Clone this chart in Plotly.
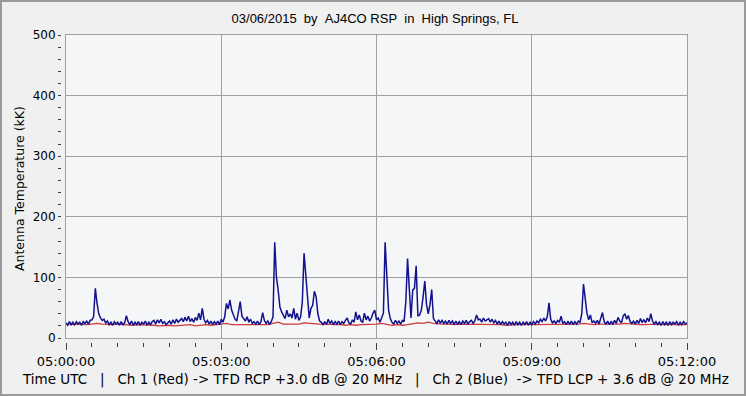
import pandas as pd
import plotly.graph_objects as go

# ---- data (antenna temperature, kK) ----
# Ch 2 (Blue): 2-second samples, one row per minute, 05:00:00 .. 05:12:00
blue_m0 = [25,21,27,22,26,21,27,23,26,21, 27,24,28,23,29,30,35,82,57,40, 33,29,31,25,28,22,26,21,27,23]
blue_m1 = [26,21,27,22,25,37,27,22,28,21, 26,22,27,21,26,23,28,21,26,22, 27,29,23,30,25,31,24,27,22,26]
blue_m2 = [28,23,30,24,31,26,29,32,27,34, 28,36,27,32,26,34,29,41,30,49, 31,25,29,23,28,22,27,23,28,22]
blue_m3 = [31,26,35,57,48,63,46,38,31,28, 42,60,36,31,28,35,26,31,24,27, 23,28,22,27,42,29,24,28,22,27]
blue_m4 = [35,158,100,79,51,43,38,32,46,35, 40,33,49,31,41,29,35,60,140,107, 60,33,49,54,77,68,40,28,26,22]
blue_m5 = [27,22,31,24,28,22,27,23,28,22, 27,24,29,33,25,23,30,26,43,30, 38,28,26,41,30,36,28,33,41,46]
blue_m6 = [30,33,26,33,41,158,107,46,32,26, 23,29,24,28,23,29,27,60,131,90, 33,79,82,119,36,38,46,68,94,55]
blue_m7 = [40,55,80,32,27,24,30,25,29,24, 28,23,29,24,28,22,28,23,27,22, 28,24,29,23,27,29,24,28,38,30]
blue_m8 = [31,26,33,28,30,32,26,31,25,29, 23,28,22,27,23,26,21,27,22,26, 21,27,22,26,21,26,22,27,21,26]
blue_m9 = [22,27,23,28,25,31,27,33,28,35, 58,31,25,28,24,29,26,36,24,27, 22,27,23,28,22,27,23,28,26,40]
blue_m10 = [89,68,41,30,38,25,28,24,29,23, 32,42,27,23,28,22,27,23,29,24, 34,28,25,36,40,31,37,27,24,28]
blue_m11 = [23,29,24,32,26,30,25,33,27,40, 28,23,27,22,26,21,27,22,26,21, 27,22,26,23,27,21,26,22,27,23]
blue_end = [25]

# Ch 1 (Red): 6-second samples, one row per minute
red_m0 = [23,22,23,22,22,23,24,23,22,22]
red_m1 = [23,22,22,21,22,22,21,21,20,21]
red_m2 = [21,20,21,21,22,20,21,22,21,22]
red_m3 = [23,24,22,22,23,22,22,23,22,22]
red_m4 = [24,26,23,23,24,23,25,24,23,23]
red_m5 = [23,22,22,22,21,22,21,22,22,22]
red_m6 = [23,24,22,21,22,21,22,24,25,24]
red_m7 = [26,24,23,23,23,22,23,23,22,22]
red_m8 = [22,22,22,23,22,21,22,22,22,23]
red_m9 = [22,22,23,22,22,23,22,22,22,23]
red_m10 = [24,23,22,23,23,22,22,23,24,23]
red_m11 = [23,22,22,23,23,22,22,22,23,22]
red_end = [22]

start_time = "2015-03-06 05:00:00"
end_time = "2015-03-06 05:12:00"
title_text = "03/06/2015  by  AJ4CO RSP  in  High Springs, FL"
x_caption = ("Time UTC   |   Ch 1 (Red) -> TFD RCP +3.0 dB @ 20 MHz   |   "
             "Ch 2 (Blue)  -> TFD LCP + 3.6 dB @ 20 MHz")
y_caption = "Antenna Temperature (kK)"

blue = (blue_m0 + blue_m1 + blue_m2 + blue_m3 + blue_m4 + blue_m5 + blue_m6 +
        blue_m7 + blue_m8 + blue_m9 + blue_m10 + blue_m11 + blue_end)
red = (red_m0 + red_m1 + red_m2 + red_m3 + red_m4 + red_m5 + red_m6 +
       red_m7 + red_m8 + red_m9 + red_m10 + red_m11 + red_end)
blue_t = pd.date_range(start_time, periods=len(blue), freq="2s")
red_t = pd.date_range(start_time, periods=len(red), freq="6s")

def nb(s):
    return s.replace(" ", "\u00a0")

W, H = 746, 396
ML, MR, MT, MB = 61, 59, 35, 54
PW, PH = W - ML - MR, H - MT - MB
GRID = "#A0A0A0"
TICKC = "#404040"

fig = go.Figure()
fig.add_trace(go.Scatter(x=red_t, y=red, mode="lines", xaxis="x", yaxis="y",
                         line=dict(color="#D03A3A", width=1.3), showlegend=False,
                         hoverinfo="skip"))
fig.add_trace(go.Scatter(x=blue_t, y=blue, mode="lines", xaxis="x2", yaxis="y2",
                         line=dict(color="#12128E", width=1.5), showlegend=False,
                         hoverinfo="skip"))

xr = [start_time, end_time]
fig.update_layout(
    width=W, height=H,
    margin=dict(l=ML, r=MR, t=MT, b=MB, pad=0),
    paper_bgcolor="#F0F0F0",
    plot_bgcolor="#F5F6F8",
    font=dict(family="DejaVu Sans", size=12, color="#000000"),
    title=dict(text=nb(title_text), x=375 / W, xanchor="center",
               y=1 - 18 / H, yanchor="middle",
               font=dict(family="Liberation Sans", size=13, color="#000000")),
    xaxis=dict(type="date", range=xr, domain=[5 / PW, 1],
               showgrid=True, gridcolor=GRID, gridwidth=1,
               tick0=start_time, dtick=180000, showticklabels=False, ticks="",
               showline=True, linecolor=GRID, linewidth=1, mirror=True, zeroline=False),
    yaxis=dict(range=[0, 500], domain=[4 / PH, 1], dtick=100,
               showgrid=True, gridcolor=GRID, gridwidth=1,
               showticklabels=False, ticks="",
               showline=True, linecolor=GRID, linewidth=1, mirror=True, zeroline=False),
    xaxis2=dict(type="date", range=xr, overlaying="x", anchor="free", position=0,
                showgrid=False, zeroline=False, showline=False,
                tick0=start_time, dtick=180000, tickformat="%H:%M:%S",
                ticks="outside", ticklen=7, tickwidth=1, tickcolor=TICKC,
                tickfont=dict(family="DejaVu Sans", size=13, color="#000000"),
                minor=dict(dtick=30000, ticks="outside", ticklen=4, tickwidth=1,
                           tickcolor=TICKC, showgrid=False)),
    yaxis2=dict(range=[0, 500], overlaying="y", anchor="free", position=0, side="left",
                showgrid=False, zeroline=False, showline=False,
                dtick=100, ticks="outside", ticklen=3, tickwidth=1, tickcolor=TICKC,
                tickfont=dict(family="DejaVu Sans", size=12, color="#000000"),
                minor=dict(dtick=20, ticks="outside", ticklen=3, tickwidth=1,
                           tickcolor=TICKC, showgrid=False)),
    annotations=[
        dict(text=nb(x_caption), xref="paper", yref="paper",
             x=(375.5 - ML) / PW, y=(H - MB - 379) / PH, xanchor="center", yanchor="middle",
             showarrow=False, font=dict(family="DejaVu Sans", size=13.5, color="#000000")),
        dict(text=y_caption, xref="paper", yref="paper", textangle=-90,
             x=(19 - ML) / PW, y=(H - MB - 189) / PH, xanchor="center", yanchor="middle",
             showarrow=False, font=dict(family="DejaVu Sans", size=12.5, color="#000000")),
    ],
    shapes=[
        dict(type="rect", xref="paper", yref="paper", layer="above",
             x0=(1 - ML) / PW, x1=(W - 1 - ML) / PW,
             y0=(H - MB - (H - 1)) / PH, y1=(H - MB - 1) / PH,
             line=dict(color="#9A9A9A", width=2), fillcolor="rgba(0,0,0,0)"),
    ],
)

fig.write_html("out.html")
